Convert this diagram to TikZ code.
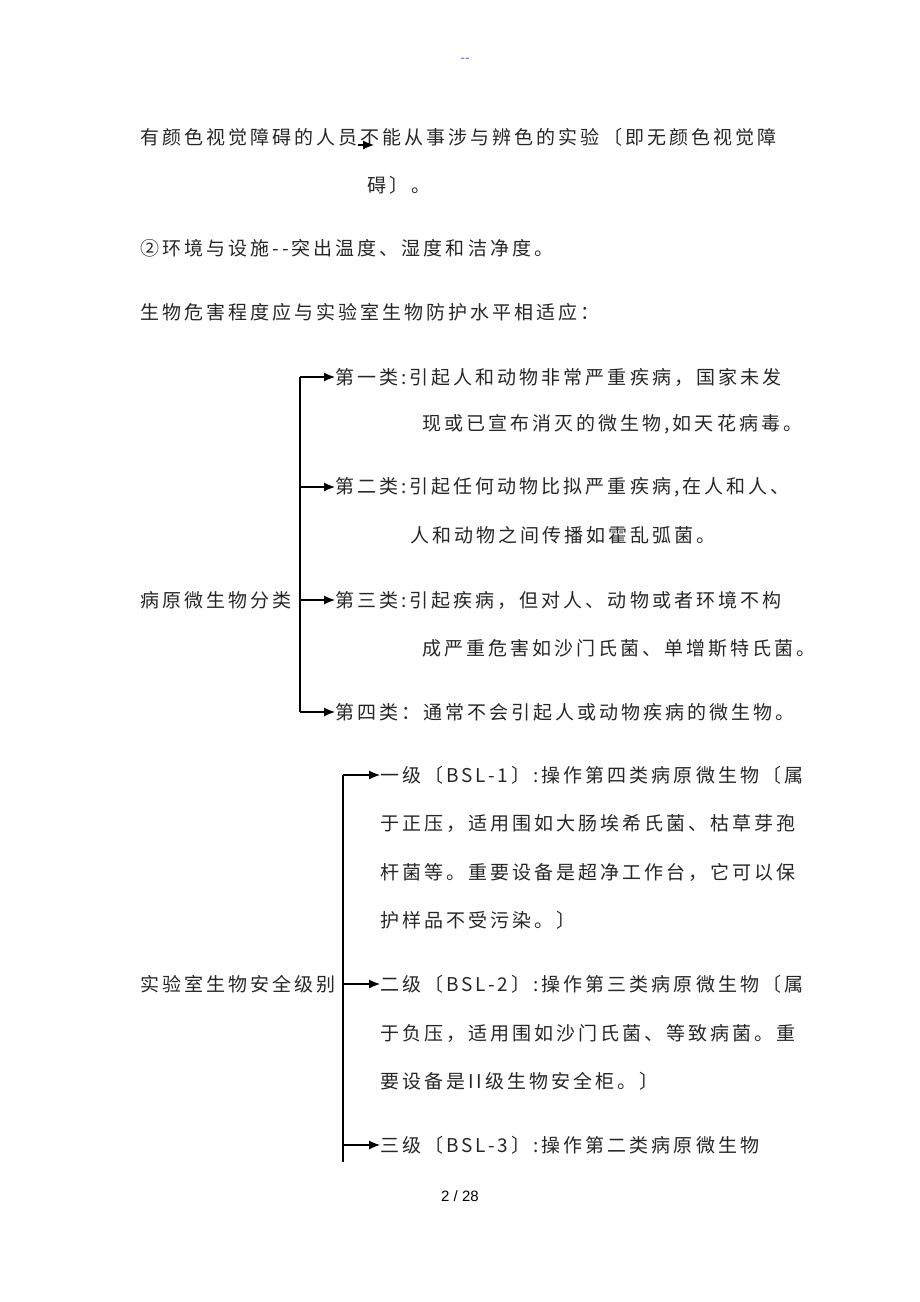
\documentclass[tikz,border=0pt]{standalone}
\usepackage{fontspec}
\newfontfamily\cjk[LetterSpace=16]{Noto Sans CJK SC}
\newfontfamily\lsans{Liberation Sans}
\usetikzlibrary{arrows.meta}
\begin{document}
\begin{tikzpicture}[x=1pt,y=-1pt,
  t/.style={anchor=west,inner sep=0pt,font=\cjk\fontsize{19}{19}\selectfont,text=black!85},
  arr/.style={-{Latex[length=11pt,width=9pt]},line width=1.1pt}]
\useasboundingbox (0,0) rectangle (920,1302);
\node[anchor=center,font=\lsans\fontsize{14}{14}\selectfont,text=blue!60] (dd) at (465,60) {--};
\node[t] (l1) at (140,137) {有颜色视觉障碍的人员不能从事涉与辨色的实验〔即无颜色视觉障};
\coordinate (s1) at (358,145);
\coordinate (s2) at (374,145);
\draw[arr] (s1) -- (s2);
\node[t] (l2) at (367,185) {碍〕。};
\node[t] (l3) at (140,248) {②环境与设施--突出温度、湿度和洁净度。};
\node[t] (l4) at (140,312) {生物危害程度应与实验室生物防护水平相适应：};
\node[t] (a1) at (335,377) {第一类:引起人和动物非常严重疾病，国家未发};
\node[t] (a1b) at (422,424) {现或已宣布消灭的微生物,如天花病毒。};
\node[t] (a2) at (335,487) {第二类:引起任何动物比拟严重疾病,在人和人、};
\node[t] (a2b) at (410,535) {人和动物之间传播如霍乱弧菌。};
\node[t] (p) at (140,600) {病原微生物分类};
\node[t] (a3) at (335,600) {第三类:引起疾病，但对人、动物或者环境不构};
\node[t] (a3b) at (422,648) {成严重危害如沙门氏菌、单增斯特氏菌。};
\node[t] (a4) at (335,712) {第四类：通常不会引起人或动物疾病的微生物。};
\coordinate (v1t) at (300,377);
\coordinate (v1b) at (300,712);
\coordinate (v1m) at (300,600);
\coordinate (v1s) at (300,487);
\draw[line width=1.1pt] (v1t) -- (v1b);
\draw[arr] (v1t) -- (a1.west);
\draw[arr] (v1s) -- (a2.west);
\draw[arr] (v1m) -- (a3.west);
\draw[arr] (v1b) -- (a4.west);
\node[t] (b1) at (380,775) {一级〔BSL-1〕:操作第四类病原微生物〔属};
\node[t] (b1b) at (380,824) {于正压，适用围如大肠埃希氏菌、枯草芽孢};
\node[t] (b1c) at (380,872) {杆菌等。重要设备是超净工作台，它可以保};
\node[t] (b1d) at (380,920) {护样品不受污染。〕};
\node[t] (q) at (140,984) {实验室生物安全级别};
\node[t] (b2) at (380,984) {二级〔BSL-2〕:操作第三类病原微生物〔属};
\node[t] (b2b) at (380,1033) {于负压，适用围如沙门氏菌、等致病菌。重};
\node[t] (b2c) at (380,1081) {要设备是II级生物安全柜。〕};
\node[t] (b3) at (380,1145) {三级〔BSL-3〕:操作第二类病原微生物};
\coordinate (v2t) at (343,775);
\coordinate (v2m) at (343,984);
\coordinate (v2s) at (343,1145);
\coordinate (v2b) at (343,1162);
\draw[line width=1.1pt] (v2t) -- (v2b);
\draw[arr] (v2t) -- (b1.west);
\draw[arr] (v2m) -- (b2.west);
\draw[arr] (v2s) -- (b3.west);
\node[anchor=center,font=\lsans\fontsize{15}{15}\selectfont] (pg) at (460,1196) {2 / 28};
\end{tikzpicture}
\end{document}
